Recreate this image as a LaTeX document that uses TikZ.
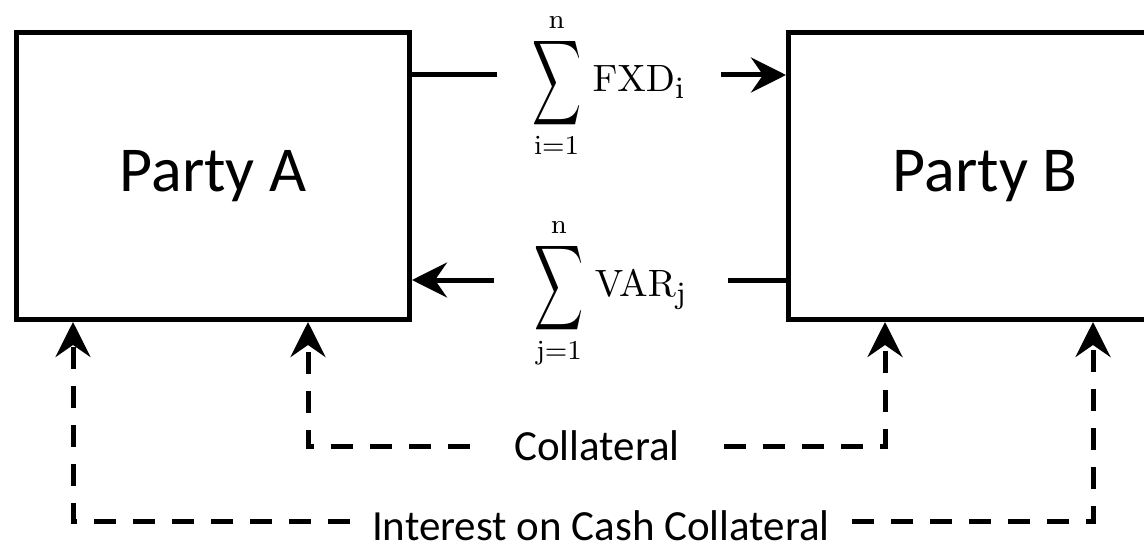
\documentclass[tikz,border=0pt]{standalone}
\usepackage{amsmath}
\usepackage[no-math]{fontspec}
\usepackage{graphicx}
\usetikzlibrary{arrows.meta,positioning}
\newfontfamily\calibri{Carlito}
\DeclareMathSizes{10}{10}{8}{6}
\newcommand{\sumflow}[2]{\scalebox{3.4}{\normalsize$\mathop{\vcenter{\hbox{\scalebox{1}[1.75]{$\displaystyle\sum$}}}}\limits_{\mathrm{#1}=1}^{\mathrm{n}}\,\scalebox{1.12}{$\mathrm{#2}_{\mathrm{#1}}$}$}}
\begin{document}
\begin{tikzpicture}[x=1pt,y=1pt,line width=5pt,>={Stealth[length=35pt,width=35pt,inset=12pt]},party/.style={draw,minimum width=393pt,minimum height=287pt,font=\calibri\fontsize{64}{70}\selectfont},flowlbl/.style={inner xsep=33pt,anchor=mid,font=\fontsize{36}{42}\selectfont},note/.style={inner xsep=42pt,font=\calibri\fontsize{43}{50}\selectfont},dashln/.style={dash pattern=on 22pt off 17pt}]
\path[clip,use as bounding box] (0,0) rectangle (1144,550);
\node[party] (A) at (213,374) {Party A};
\node[party,right=374pt of A] (B) {Party B};
\coordinate (fxdln) at (609,475);\coordinate (varln) at (611,270);
\node[flowlbl] (fxd) at (609,461) {\sumflow{i}{FXD}};
\node[flowlbl,inner xsep=38pt] (var) at (611,256) {\sumflow{j}{VAR}};
\draw (A.east |- fxdln)--(fxd.west |- fxdln);\draw[->] (fxd.east |- fxdln)--(B.west |- fxdln);
\draw[->] (var.west |- varln)--(A.east |- varln);\draw (B.west |- varln)--(var.east |- varln);
\coordinate (colA) at ([xshift=95pt]A.south);\coordinate (colB) at ([xshift=-100pt]B.south);
\coordinate (intA) at ([xshift=-140pt]A.south);\coordinate (intB) at ([xshift=108pt]B.south);
\node[note] (col) at (597,104) {Collateral};
\node[note,inner xsep=20pt] (int) at (601,24) {Interest on Cash Collateral};
\draw[dashln,->] (col.west) -| (colA);\draw[dashln,->] (col.east) -| (colB);
\draw[dashln,->] ([yshift=5pt]int.west) -| (intA);\draw[dashln,->] ([yshift=5pt]int.east) -| (intB);
\end{tikzpicture}
\end{document}
